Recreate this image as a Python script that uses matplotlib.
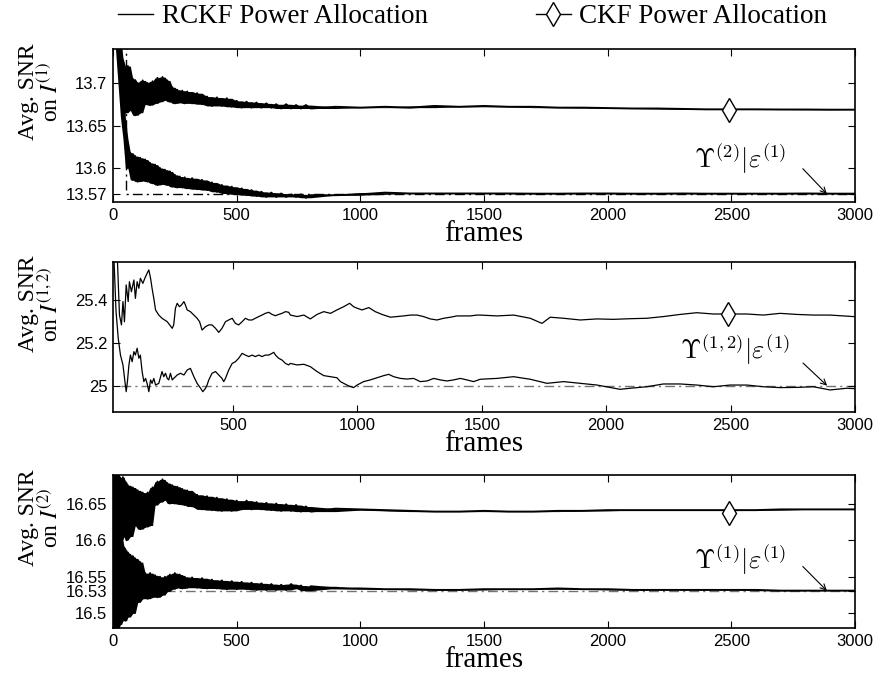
import numpy as np
import matplotlib
matplotlib.use("Agg")
import matplotlib.pyplot as plt
from matplotlib.lines import Line2D

plt.rcParams['font.family'] = 'Liberation Serif'
plt.rcParams['mathtext.fontset'] = 'stix'

# ---------------- data ----------------
# panel 1 and 3: noisy curves (alternating upper/lower excursions of the noise band)
head_1 = list(range(10, 301, 10))
mid = list(range(320, 801, 20))
tail = list(range(900, 3001, 100))
frames_1 = head_1 + mid + tail

p1_upper = [13.80, 13.76, 13.73, 13.70, 13.665, 13.72, 13.668, 13.705, 13.662, 13.70,
            13.665, 13.703, 13.675, 13.700, 13.674, 13.702, 13.676, 13.706, 13.678, 13.707,
            13.680, 13.703, 13.678, 13.695, 13.676, 13.692, 13.677, 13.691, 13.676, 13.690,
            13.676, 13.688, 13.675, 13.684, 13.673, 13.683, 13.673, 13.682, 13.672, 13.679,
            13.671, 13.678, 13.671, 13.677, 13.671, 13.676, 13.671, 13.675, 13.670, 13.675,
            13.670, 13.674, 13.670, 13.674, 13.670,
            13.672, 13.671, 13.672, 13.671, 13.673, 13.672, 13.673, 13.672, 13.672, 13.671,
            13.671, 13.6705, 13.670, 13.670, 13.6695, 13.669, 13.669, 13.669, 13.6688, 13.6688,
            13.6686, 13.6686]
p1_lower = [13.80, 13.74, 13.70, 13.66, 13.635, 13.60, 13.618, 13.586, 13.614, 13.584,
            13.612, 13.585, 13.610, 13.584, 13.606, 13.582, 13.604, 13.580, 13.600, 13.581,
            13.598, 13.580, 13.596, 13.578, 13.592, 13.577, 13.590, 13.577, 13.589, 13.576,
            13.588, 13.575, 13.586, 13.574, 13.583, 13.572, 13.580, 13.570, 13.578, 13.569,
            13.576, 13.568, 13.574, 13.567, 13.572, 13.566, 13.571, 13.566, 13.570, 13.566,
            13.569, 13.566, 13.569, 13.565, 13.568,
            13.568, 13.569, 13.571, 13.570, 13.570, 13.570, 13.570, 13.570, 13.5698, 13.5698,
            13.570, 13.570, 13.5698, 13.5698, 13.570, 13.5698, 13.5698, 13.5698, 13.5698, 13.570,
            13.5698, 13.5698]
p1_ref_x = [52, 52, 3000]
p1_ref_y = [13.80, 13.57, 13.57]

# panel 2: smoother curves
p2_upper_x = [20, 35, 44, 52, 58, 64, 71, 79, 84, 92, 102, 108, 115, 122, 128, 138, 146, 155, 162, 169,
              175, 182, 189, 202, 215, 236, 256, 262, 269, 276, 285, 293, 303, 309, 316, 329, 343, 356, 366, 376,
              390, 403, 416, 430, 443, 456, 470, 483, 497, 510, 523, 537, 550, 564, 577, 590, 604, 617, 630, 644,
              657, 671, 684, 697, 711, 724,
              731, 758, 785, 811, 838, 865, 892, 918, 945, 969, 985, 999, 1019, 1046, 1072, 1099, 1133, 1159, 1186, 1213,
              1240, 1266, 1293, 1320, 1347, 1374, 1400, 1427, 1454, 1481,
              1494, 1561, 1628, 1695, 1742, 1775, 1829, 1896, 1963, 2029, 2096, 2163, 2230, 2297, 2364, 2431, 2491, 2565,
              2632, 2699, 2766, 2833, 2900, 2993, 3000]
p2_upper_y = [25.80, 25.61, 25.330, 25.284, 25.393, 25.299, 25.471, 25.393, 25.486, 25.439,
              25.494, 25.408, 25.486, 25.455, 25.502, 25.478, 25.502, 25.525, 25.541, 25.502,
              25.455, 25.408, 25.354, 25.330, 25.315, 25.299, 25.268, 25.284, 25.362, 25.385,
              25.369, 25.377, 25.393, 25.377, 25.354, 25.346, 25.330, 25.315, 25.299, 25.260,
              25.276, 25.284, 25.284, 25.268, 25.249, 25.268, 25.299, 25.307, 25.315, 25.291,
              25.284, 25.299, 25.315, 25.307, 25.307, 25.315, 25.323, 25.330, 25.338, 25.343,
              25.333, 25.327, 25.333, 25.338, 25.346, 25.343,
              25.330, 25.323, 25.330, 25.312, 25.333, 25.346, 25.338, 25.354, 25.369, 25.385,
              25.369, 25.362, 25.354, 25.365, 25.346, 25.333, 25.320, 25.323, 25.326, 25.330,
              25.330, 25.323, 25.312, 25.307, 25.315, 25.320, 25.326, 25.326, 25.326, 25.330,
              25.330, 25.326, 25.330, 25.315, 25.291, 25.320, 25.315, 25.307, 25.312, 25.310,
              25.313, 25.315, 25.323, 25.333, 25.341, 25.335, 25.335, 25.335, 25.330, 25.338,
              25.333, 25.330, 25.330, 25.323, 25.323]
p2_lower_x = [20, 30, 39, 48, 58, 66, 71, 76, 82, 88, 95, 102, 108, 115, 122, 128, 135, 142, 149, 155,
              162, 169, 175, 182, 189, 202, 215, 222, 229, 236, 242, 249, 256, 262, 276, 289, 303, 316, 329, 343,
              356, 370, 379, 390, 396, 403, 416, 430, 443, 456, 463, 470, 483, 497, 510, 523, 537, 550, 564, 577,
              590, 604, 617, 630, 644, 657, 664, 671, 684, 697, 711, 724,
              731, 758, 785, 811, 838, 865, 892, 918, 932, 945, 965, 985, 999, 1025, 1052, 1079, 1106, 1126, 1146, 1173,
              1199, 1226, 1253, 1280, 1307, 1333, 1360, 1387, 1414, 1440, 1467,
              1494, 1561, 1628, 1695, 1762, 1829, 1896, 1963, 2056, 2096, 2163, 2230, 2297, 2364, 2431, 2498, 2565,
              2632, 2699, 2766, 2833, 2900, 2967, 3000]
p2_lower_y = [25.65, 25.35, 25.221, 25.143, 25.097, 25.019, 24.972, 25.019, 25.097, 25.143,
              25.112, 25.159, 25.143, 25.175, 25.128, 25.143, 25.066, 25.019, 25.034, 25.011,
              24.972, 25.027, 25.011, 25.034, 25.003, 25.011, 25.066, 25.042, 25.058, 25.034,
              25.027, 25.058, 25.027, 25.034, 25.050, 25.058, 25.050, 25.073, 25.081, 25.042,
              25.011, 24.988, 24.972, 24.988, 25.003, 25.027, 25.058, 25.066, 25.050, 25.034,
              25.019, 25.034, 25.073, 25.104, 25.112, 25.128, 25.151, 25.143, 25.136, 25.143,
              25.136, 25.143, 25.136, 25.143, 25.143, 25.151, 25.156, 25.143, 25.128, 25.120,
              25.104, 25.097,
              25.104, 25.097, 25.100, 25.089, 25.066, 25.047, 25.042, 25.037, 25.019, 25.011,
              24.999, 24.991, 25.003, 25.019, 25.027, 25.037, 25.047, 25.053, 25.042, 25.034,
              25.031, 25.034, 25.019, 25.022, 25.034, 25.027, 25.022, 25.027, 25.034, 25.027,
              25.019,
              25.030, 25.034, 25.042, 25.030, 25.011, 25.019, 25.011, 25.003, 24.983, 24.988,
              24.995, 25.008, 25.008, 25.003, 24.995, 25.003, 25.003, 24.995, 24.991, 24.992,
              24.995, 24.980, 24.988, 24.986]
p2_ref_x = [50, 3000]
p2_ref_y = [25.0, 25.0]

# panel 3
head_3 = list(range(0, 60, 5)) + list(range(60, 301, 10))
frames_3 = head_3 + mid + tail
p3_upper = [16.70, 16.49, 16.70, 16.49, 16.69, 16.52, 16.685, 16.60, 16.686, 16.605, 16.68, 16.60,
            16.675, 16.605, 16.672, 16.62, 16.668, 16.615, 16.665, 16.618, 16.665, 16.62,
            16.672, 16.648, 16.680, 16.652, 16.683, 16.655, 16.678, 16.650, 16.675, 16.650,
            16.673, 16.649, 16.670, 16.648, 16.668,
            16.646, 16.662, 16.642, 16.660, 16.641, 16.658, 16.640, 16.656, 16.640, 16.654,
            16.642, 16.654, 16.642, 16.652, 16.642, 16.651, 16.641, 16.650, 16.640, 16.649,
            16.640, 16.648, 16.639, 16.646, 16.639,
            16.643, 16.642, 16.641, 16.640, 16.639, 16.639, 16.640, 16.639, 16.639, 16.640,
            16.640, 16.641, 16.641, 16.641, 16.641, 16.641, 16.641, 16.641, 16.642, 16.642,
            16.642, 16.642]
p3_lower = [16.48, 16.69, 16.48, 16.69, 16.48, 16.66, 16.485, 16.60, 16.49, 16.59, 16.49, 16.585,
            16.495, 16.58, 16.50, 16.575, 16.515, 16.57, 16.52, 16.555, 16.52, 16.555,
            16.522, 16.552, 16.522, 16.550, 16.525, 16.550, 16.530, 16.553, 16.533, 16.555,
            16.535, 16.553, 16.534, 16.550, 16.535,
            16.549, 16.535, 16.548, 16.534, 16.546, 16.534, 16.545, 16.533, 16.544, 16.533,
            16.543, 16.533, 16.542, 16.532, 16.541, 16.532, 16.540, 16.532, 16.539, 16.532,
            16.540, 16.534, 16.538, 16.531, 16.537,
            16.534, 16.534, 16.533, 16.533, 16.532, 16.532, 16.533, 16.533, 16.533, 16.534,
            16.533, 16.533, 16.532, 16.532, 16.532, 16.532, 16.532, 16.532, 16.531, 16.531,
            16.531, 16.531]
p3_ref_x = [50, 3000]
p3_ref_y = [16.53, 16.53]

# CKF marker (frame, value) per panel
ckf_x = [2490, 2490, 2490]
ckf_y = [13.6686, 25.335, 16.637]

ylabels = ["Avg. SNR\non $I^{(1)}$", "Avg. SNR\non $I^{(1,2)}$", "Avg. SNR\non $I^{(2)}$"]
notes = [r"$\Upsilon^{(2)}|\varepsilon^{(1)}$", r"$\Upsilon^{(1,2)}|\varepsilon^{(1)}$",
         r"$\Upsilon^{(1)}|\varepsilon^{(1)}$"]
note_xy = [(2536, 13.611), (2518, 25.167), (2536, 16.573)]
arrow_from = [(2789, 13.5992), (2791, 25.106), (2789, 16.564)]
arrow_to = [(2886, 13.5696), (2888, 25.0), (2886, 16.531)]

ylims = [(13.56, 13.74), (24.877, 25.578), (16.48, 16.689)]
xlims = [(0, 3000), (18, 3000), (0, 3000)]
yticks = [[13.57, 13.6, 13.65, 13.7], [25, 25.2, 25.4], [16.5, 16.53, 16.55, 16.6, 16.65]]
yticklabels = [["13.57", "13.6", "13.65", "13.7"], ["25", "25.2", "25.4"],
               ["16.5", "16.53", "16.55", "16.6", "16.65"]]
xticks = [[0, 500, 1000, 1500, 2000, 2500, 3000], [500, 1000, 1500, 2000, 2500, 3000],
          [0, 500, 1000, 1500, 2000, 2500, 3000]]

series = [
    [(frames_1, p1_upper), (frames_1, p1_lower)],
    [(p2_upper_x, p2_upper_y), (p2_lower_x, p2_lower_y)],
    [(frames_3, p3_upper), (frames_3, p3_lower)],
]
noisy = [True, False, True]
refs = [(p1_ref_x, p1_ref_y, 'k'), (p2_ref_x, p2_ref_y, '0.45'), (p3_ref_x, p3_ref_y, '0.45')]


def noise_band(ax, xs, ys):
    # fill the area swept by the zigzag so the noisy part reads as a dense band
    ys = np.asarray(ys, float)
    prev = np.concatenate([ys[:1], ys[:-1]])
    nxt = np.concatenate([ys[1:], ys[-1:]])
    lo = np.minimum(np.minimum(prev, ys), nxt)
    hi = np.maximum(np.maximum(prev, ys), nxt)
    ax.fill_between(xs, lo, hi, color='k', lw=0, zorder=2)


# ---------------- figure ----------------
W, H = 877, 677
fig = plt.figure(figsize=(W / 100, H / 100), dpi=100)
boxes = [(113, 49, 855, 202), (113, 262, 855, 412), (113, 475, 855, 628)]

for i in range(3):
    l, t, r, b = boxes[i]
    ax = fig.add_axes([l / W, 1 - b / H, (r - l) / W, (b - t) / H])
    rx, ry, rc = refs[i]
    ax.plot(rx, ry, color=rc, lw=1.0, dashes=(7, 3, 1.5, 3), zorder=1)
    for xs, ys in series[i]:
        if noisy[i]:
            noise_band(ax, xs, ys)
            ax.plot(xs, ys, color='k', lw=1.4, zorder=2)
        else:
            ax.plot(xs, ys, color='k', lw=0.9, zorder=2)
    ax.plot(ckf_x[i], ckf_y[i], marker='d', ms=12.5, mfc='white', mec='k', mew=1.0, zorder=3)
    ax.text(note_xy[i][0], note_xy[i][1], notes[i], fontsize=19, ha='center', va='center',
            math_fontfamily='cm')
    ax.annotate('', xy=arrow_to[i], xytext=arrow_from[i],
                arrowprops=dict(arrowstyle='->', lw=0.8, color='k', shrinkA=0, shrinkB=0,
                                mutation_scale=10))
    ax.set_xlim(*xlims[i])
    ax.set_ylim(*ylims[i])
    ax.set_xticks(xticks[i])
    ax.set_yticks(yticks[i])
    ax.set_yticklabels(yticklabels[i])
    ax.tick_params(direction='in', top=True, right=True, length=5, width=0.8,
                   labelsize=12, labelfontfamily='Liberation Sans', pad=4)
    for s in ax.spines.values():
        s.set_linewidth(1.2)
    ax.set_xlabel('frames', fontsize=21, labelpad=-1)
    ax.set_ylabel(ylabels[i], fontsize=17, linespacing=0.95)
    ax.yaxis.set_label_coords(-0.067, 0.72)

handles = [Line2D([], [], color='k', lw=1.0),
           Line2D([], [], color='k', lw=1.0, marker='d', ms=12.5, mfc='white', mec='k')]
fig.legend(handles, ['RCKF Power Allocation', 'CKF Power Allocation'], loc='center',
           bbox_to_anchor=(0.539, 0.975), ncol=2, frameon=False, fontsize=19.5,
           handlelength=1.3, handletextpad=0.3, columnspacing=4.0, borderaxespad=0)

fig.savefig('out.png', dpi=100)
